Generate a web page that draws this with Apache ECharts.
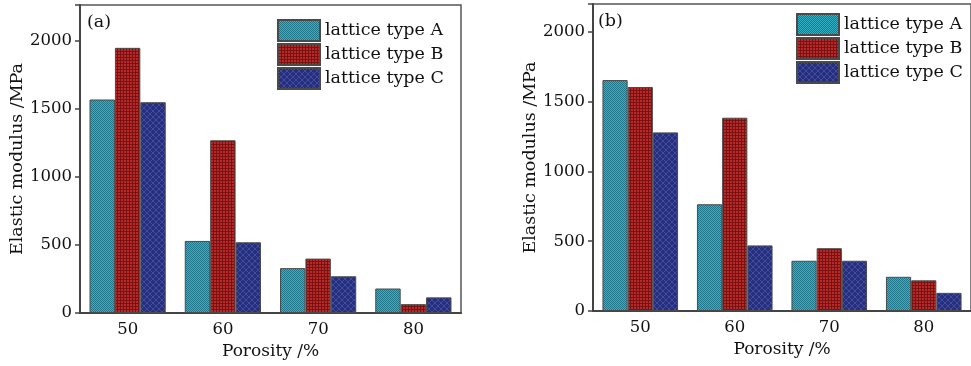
<!DOCTYPE html>
<html>
<head>
<meta charset="utf-8">
<script src="https://cdn.jsdelivr.net/npm/echarts@6/dist/echarts.min.js"></script>
<style>
   body { margin: 0; background: #fff; }
   #chart { width: 971px; height: 366px; }
</style>
</head>
<body>
<div id="chart"></div>
<script>
// porosity categories (%)
const categories = ['50', '60', '70', '80'];
const seriesNames = ['lattice type A', 'lattice type B', 'lattice type C'];
// panel (a) elastic modulus /MPa
const aTypeA = [1570, 530, 330, 180];
const aTypeB = [1950, 1270, 400, 65];
const aTypeC = [1550, 520, 270, 115];
// panel (b) elastic modulus /MPa
const bTypeA = [1655, 765, 360, 245];
const bTypeB = [1605, 1385, 450, 220];
const bTypeC = [1280, 470, 360, 130];

const FONT = 'DejaVu Serif';
const INK = '#111';

// hatch fills, drawn on small canvas tiles
const makeTile = (kind) => {
   const c = document.createElement('canvas');
   const ctx = c.getContext('2d');
   if (kind === 'A') {
      c.width = 2; c.height = 2;
      ctx.fillStyle = '#3ab0c4'; ctx.fillRect(0, 0, 2, 2);
      ctx.fillStyle = '#1d7589';
      ctx.fillRect(0, 0, 1, 1); ctx.fillRect(1, 1, 1, 1);
   } else if (kind === 'B') {
      c.width = 3; c.height = 3;
      ctx.fillStyle = '#b82a2a'; ctx.fillRect(0, 0, 3, 3);
      ctx.fillStyle = '#7a1212';
      ctx.fillRect(0, 0, 3, 1); ctx.fillRect(0, 0, 1, 3);
   } else {
      c.width = 6; c.height = 6;
      ctx.fillStyle = '#262f7c'; ctx.fillRect(0, 0, 6, 6);
      ctx.fillStyle = '#414ca0';
      for (let i = 0; i < 6; i++) {
         ctx.fillRect(i, i, 1, 1);
         ctx.fillRect(5 - i, i, 1, 1);
      }
   }
   return { image: c, repeat: 'repeat' };
};
const fills = [makeTile('A'), makeTile('B'), makeTile('C')];

const chart = echarts.init(document.getElementById('chart'));

const makeX = (gridIndex) => ({
   type: 'category',
   gridIndex,
   data: categories,
   name: 'Porosity /%',
   nameLocation: 'middle',
   nameGap: 28,
   nameTextStyle: { fontFamily: FONT, fontSize: 17, color: INK },
   axisLine: { lineStyle: { color: '#444', width: 2 } },
   axisTick: { inside: true, alignWithLabel: true, length: 4, lineStyle: { color: '#444' } },
   axisLabel: { margin: 8, fontFamily: FONT, fontSize: 16.5, color: INK },
   splitLine: { show: false }
});

const makeY = (gridIndex, max, gap) => ({
   type: 'value',
   gridIndex,
   min: 0,
   max,
   interval: 500,
   name: 'Elastic modulus /MPa',
   nameLocation: 'middle',
   nameGap: gap,
   nameTextStyle: { fontFamily: FONT, fontSize: 17.5, color: INK },
   axisLine: { show: true, lineStyle: { color: '#444', width: 2 } },
   axisTick: { show: true, length: 5, lineStyle: { color: '#444', width: 1.5 } },
   axisLabel: {
      margin: 8, fontFamily: FONT, fontSize: 16.5, color: INK,
      formatter: (v) => (v % 500 === 0 ? String(v) : '')
   },
   splitLine: { show: false }
});

const makeBars = (idx, lists) => lists.map((data, i) => ({
   name: seriesNames[i],
   type: 'bar',
   xAxisIndex: idx,
   yAxisIndex: idx,
   data,
   barGap: '0%',
   barCategoryGap: '20%',
   itemStyle: { color: fills[i], borderColor: '#4a4a4a', borderWidth: 1 }
}));

const makeLegend = (left, top) => ({
   orient: 'vertical',
   left, top,
   padding: 0,
   itemWidth: 42,
   itemHeight: 21,
   itemGap: 1,
   icon: 'rect',
   data: seriesNames,
   textStyle: { fontFamily: FONT, fontSize: 17.5, color: INK, lineHeight: 20 }
});

const option = {
   animation: false,
   title: [
      { text: '(a)', left: 87, top: 13, padding: 0,
        textStyle: { fontFamily: FONT, fontSize: 17.5, fontWeight: 'normal', color: INK } },
      { text: '(b)', left: 598, top: 12, padding: 0,
        textStyle: { fontFamily: FONT, fontSize: 17.5, fontWeight: 'normal', color: INK } }
   ],
   grid: [
      { left: 80, top: 5, width: 381, height: 308, show: true, borderColor: '#555', borderWidth: 1.5, backgroundColor: 'transparent' },
      { left: 593, top: 4, width: 380, height: 307, show: true, borderColor: '#555', borderWidth: 1.5, backgroundColor: 'transparent' }
   ],
   legend: [
      makeLegend(277, 19),
      makeLegend(796, 13)
   ],
   xAxis: [makeX(0), makeX(1)],
   yAxis: [makeY(0, 2265, 54), makeY(1, 2200, 53)],
   series: [
      ...makeBars(0, [aTypeA, aTypeB, aTypeC]),
      ...makeBars(1, [bTypeA, bTypeB, bTypeC])
   ]
};
chart.setOption(option);
</script>
</body>
</html>
